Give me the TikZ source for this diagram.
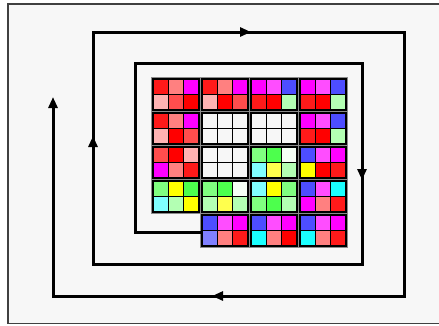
\documentclass[tikz,border=0pt]{standalone}
\usetikzlibrary{arrows.meta}

\definecolor{bgpanel}{HTML}{F7F7F7}
\definecolor{pr}{HTML}{FF0000}
\definecolor{rd}{HTML}{FF1A1A}
\definecolor{mr}{HTML}{FF4D4D}
\definecolor{sa}{HTML}{FF8080}
\definecolor{pk}{HTML}{FFB3B3}
\definecolor{mg}{HTML}{FF00FF}
\definecolor{lm}{HTML}{FF4DFF}
\definecolor{bl}{HTML}{4D4DFF}
\definecolor{lb}{HTML}{8080FF}
\definecolor{cy}{HTML}{1AFFFF}
\definecolor{lc}{HTML}{80FFFF}
\definecolor{gr}{HTML}{4DFF4D}
\definecolor{lg}{HTML}{80FF80}
\definecolor{pg}{HTML}{B3FFB3}
\definecolor{vp}{HTML}{F5FFF5}
\definecolor{ye}{HTML}{FFFF00}
\definecolor{ly}{HTML}{FFFF4D}
\definecolor{wh}{HTML}{F7F7F7}

\tikzset{
  spiral/.style={line width=3pt, line join=miter},
  tip/.style={-{Triangle[length=11pt,width=9pt]}},
  cell/.style={draw=black, line width=1.1pt},
  tileframe/.style={draw=black, line width=1.6pt},
  tileshadow/.style={fill=black!45},
}

\begin{document}
\begin{tikzpicture}[x=1pt,y=-1pt]
    \def\cw{15.33}
    \def\ch{15.5}

    \useasboundingbox (0,0) rectangle (439,325);

    % panel
    \fill[bgpanel] (8,4) rectangle (439,323.5);
    \draw[black!75, line width=1.5pt] (439,4) -- (8,4) -- (8,323.5) -- (439,323.5);

    % tiles: column, row, six cell colours
    \foreach \i/\j/\colours in {
        0/0/{rd,sa,mg,pk,mr,pr}, 1/0/{rd,sa,mg,pk,pr,mr}, 2/0/{mg,lm,bl,rd,pr,pg}, 3/0/{mg,lm,bl,rd,pr,pg},
        0/1/{rd,sa,mg,pk,pr,mr}, 1/1/{wh,wh,wh,wh,wh,wh}, 2/1/{wh,wh,wh,wh,wh,wh}, 3/1/{mg,lm,bl,rd,pr,pg},
        0/2/{mr,pr,pk,mg,sa,rd}, 1/2/{wh,wh,wh,wh,wh,wh}, 2/2/{lg,gr,vp,lc,ly,pg}, 3/2/{bl,lm,mg,ye,pr,rd},
        0/3/{lg,ye,gr,lc,pg,ye}, 1/3/{lg,gr,vp,pg,ly,pg}, 2/3/{lc,ye,lg,lg,gr,pg}, 3/3/{bl,lm,cy,mg,sa,rd},
        1/4/{bl,lm,mg,lb,sa,rd}, 2/4/{bl,lm,mg,cy,sa,pr}, 3/4/{bl,lm,mg,cy,sa,rd}} {
      \pgfmathsetmacro\tx{153+49*\i}
      \pgfmathsetmacro\ty{79+34*\j}
      \fill[tileshadow] (\tx-2,\ty-2) rectangle ++(3*\cw+4,2*\ch+4);
      \foreach \c [count=\k from 0] in \colours {
        \pgfmathsetmacro\cx{\tx+mod(\k,3)*\cw}
        \pgfmathsetmacro\cy{\ty+int(\k/3)*\ch}
        \draw[cell, fill=\c] (\cx,\cy) rectangle ++(\cw,\ch);
      }
      \draw[tileframe] (\tx,\ty) rectangle ++(3*\cw,2*\ch);
    }

    % spiral, from the tiles outwards
    \coordinate (S) at (201,232);
    \coordinate (E) at (53,97);
    \draw[spiral, tip] (S) -- (135,232) -- (135,63) -- (362,63) -- (362,264)
        -- (93,264) -- (93,32) -- (404,32) -- (404,296) -- (53,296) -- (E);

    % arrows along the way
    \draw[spiral, tip] (239,32) -- (251,32);
    \draw[spiral, tip] (362,168) -- (362,180);
    \draw[spiral, tip] (93,148) -- (93,136);
    \draw[spiral, tip] (224,296) -- (212,296);
\end{tikzpicture}
\end{document}
